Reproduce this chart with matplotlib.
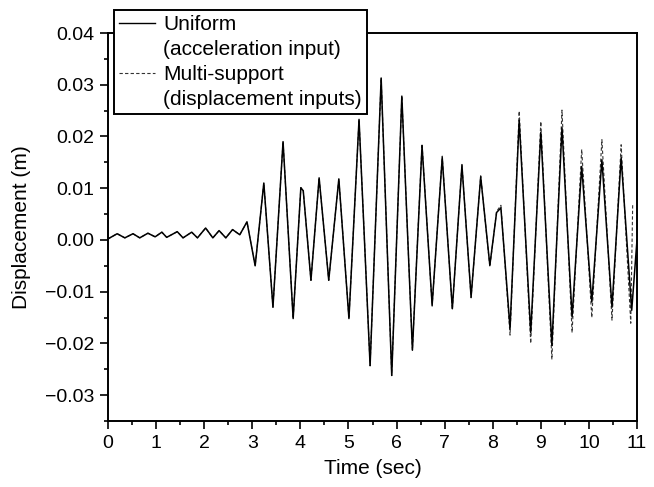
import matplotlib
matplotlib.use('Agg')
import matplotlib.pyplot as plt
from matplotlib.lines import Line2D
from matplotlib.ticker import MultipleLocator, FuncFormatter

plt.rcParams['font.family'] = ['Liberation Sans', 'DejaVu Sans']

# peaks / troughs (time in sec, displacement in m)
t_uniform = [0.00, 0.19, 0.35, 0.52, 0.66, 0.83, 0.98, 1.12, 1.22, 1.44,
             1.56, 1.74, 1.86, 2.03, 2.18, 2.31, 2.45, 2.59, 2.74, 2.89,
             3.06, 3.24, 3.43, 3.64, 3.85, 4.01, 4.06, 4.22, 4.39, 4.59,
             4.80, 5.01, 5.22, 5.45, 5.68, 5.90, 6.11, 6.33, 6.53, 6.74,
             6.95, 7.16, 7.36, 7.55, 7.75, 7.94, 8.08, 8.17, 8.36, 8.55,
             8.79, 9.00, 9.23, 9.44, 9.65, 9.85, 10.06, 10.27, 10.48, 10.67,
             10.89, 11.00]
d_uniform = [0.0002, 0.0012, 0.0004, 0.0012, 0.0004, 0.0013, 0.0006, 0.0015, 0.0005, 0.0016,
             0.0004, 0.0015, 0.0004, 0.0023, 0.0004, 0.0018, 0.0004, 0.0020, 0.0010, 0.0035,
             -0.0050, 0.0110, -0.0130, 0.0190, -0.0152, 0.0101, 0.0095, -0.0078, 0.0120, -0.0078,
             0.0118, -0.0152, 0.0233, -0.0243, 0.0313, -0.0262, 0.0278, -0.0213, 0.0182, -0.0126,
             0.0159, -0.0133, 0.0144, -0.0110, 0.0122, -0.0049, 0.0053, 0.0062, -0.0171, 0.0231,
             -0.0179, 0.0208, -0.0204, 0.0217, -0.0149, 0.0142, -0.0120, 0.0155, -0.0130, 0.0159,
             -0.0136, 0.0000]

# multi-support follows the uniform trace up to ~6.3 s, then drifts apart
n_same = 38
t_multi = t_uniform[:n_same] + [6.53, 6.74, 6.95, 7.16, 7.36, 7.55, 7.75, 7.94, 8.08, 8.17,
                                8.36, 8.55, 8.79, 9.00, 9.23, 9.44, 9.65, 9.85, 10.06, 10.27,
                                10.48, 10.67, 10.87, 10.91]
d_multi = d_uniform[:n_same] + [0.0186, -0.0128, 0.0162, -0.0135, 0.0146, -0.0112, 0.0124, -0.0052, 0.0055, 0.0067,
                                -0.0184, 0.0249, -0.0200, 0.0229, -0.0231, 0.0251, -0.0179, 0.0175, -0.0150, 0.0194,
                                -0.0155, 0.0184, -0.0161, 0.0068]

fig = plt.figure(figsize=(6.54, 4.87), dpi=100)
ax = fig.add_axes([108/654, 1 - 421/487, (637-108)/654, (421-33)/487])

ax.plot(t_multi, d_multi, color='#333333', lw=0.8, ls=(0, (3, 2)))
ax.plot(t_uniform, d_uniform, color='black', lw=1.1, solid_joinstyle='round')

ax.set_xlim(0, 11)
ax.set_ylim(-0.035, 0.04)
ax.xaxis.set_major_locator(MultipleLocator(1))
ax.xaxis.set_minor_locator(MultipleLocator(0.5))
ax.yaxis.set_major_locator(MultipleLocator(0.01))
ax.yaxis.set_minor_locator(MultipleLocator(0.005))
ax.yaxis.set_major_formatter(FuncFormatter(
    lambda v, pos: f'{abs(v):.2f}' if round(v, 4) >= 0 else '\u2212' + f'{abs(v):.2f}'))
ax.tick_params(which='both', direction='out', top=False, right=False, labelsize=14, pad=4)
ax.tick_params(which='major', length=6, width=1.2)
ax.tick_params(which='minor', length=3, width=1.2)
for s in ax.spines.values():
    s.set_linewidth(1.4)

ax.set_xlabel('Time (sec)', fontsize=15, labelpad=5)
ax.set_ylabel('Displacement (m)', fontsize=15, labelpad=10)

blank = Line2D([], [], color='none')
handles = [Line2D([], [], color='black', lw=1.0), blank,
           Line2D([], [], color='#333333', lw=0.8, ls=(0, (3, 2))), blank]
labels = ['Uniform', '(acceleration input)', 'Multi-support', '(displacement inputs)']
leg = ax.legend(handles, labels, loc='upper left',
                bbox_to_anchor=(114/654, 1 - 10/487), bbox_transform=fig.transFigure,
                borderaxespad=0, fontsize=15, frameon=True, fancybox=False,
                edgecolor='black', framealpha=1, handlelength=1.7,
                handletextpad=0.4, labelspacing=0.28, borderpad=0.25)
leg.get_frame().set_linewidth(1.4)

fig.savefig('out.png', dpi=100)
